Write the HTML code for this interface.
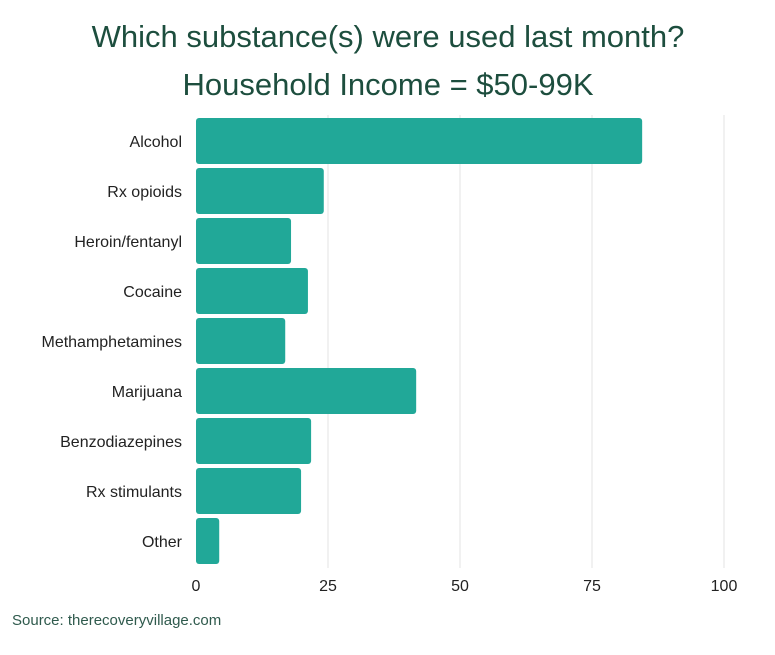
<!DOCTYPE html>
<html><head><meta charset="utf-8"><style>
body{margin:0;background:#fff;width:775px;height:650px;overflow:hidden;font-family:"Liberation Sans",sans-serif}
</style></head><body>
<svg width="775" height="650">
<text x="388" y="47" text-anchor="middle" font-size="31" fill="#1d4e3e">Which substance(s) were used last month?</text>
<text x="388" y="95" text-anchor="middle" font-size="31" fill="#1d4e3e">Household Income = $50-99K</text>
<g id="grid"></g><g id="bars"></g><g id="labels"></g><g id="ticks"></g>
<text x="12" y="625" font-size="15" fill="#2f5a4d">Source: therecoveryvillage.com</text>
</svg>
<script>
const categories=["Alcohol","Rx opioids","Heroin/fentanyl","Cocaine","Methamphetamines","Marijuana","Benzodiazepines","Rx stimulants","Other"];
const values=[84.5,24.2,18,21.2,16.9,41.7,21.8,19.9,4.4];
const ticks=[0,25,50,75,100];
const NS="http://www.w3.org/2000/svg";
const x=v=>196+v*5.28;
const y=i=>118+i*50;
function mk(t,a,p){const e=document.createElementNS(NS,t);for(const k in a)e.setAttribute(k,a[k]);p.appendChild(e);return e;}
const g=document.getElementById('grid'),b=document.getElementById('bars'),l=document.getElementById('labels'),tk=document.getElementById('ticks');
ticks.forEach(t=>{
 if(t>0){const ln=mk('line',{x1:x(t),x2:x(t),y1:115,y2:568,stroke:'#e3e3e3','stroke-width':1},g);
 
 }
 const tx=mk('text',{x:x(t),y:591,'text-anchor':'middle','font-size':16,fill:'#222'},tk);
 tx.textContent=t;
 
 
});
categories.forEach((c,i)=>{
 const r=mk('rect',{x:x(0),y:y(i),width:x(values[i])-x(0),height:46,rx:3,fill:'#21a898'},b);
 
 
 const t=mk('text',{x:182,y:y(i)+29,'text-anchor':'end','font-size':16,fill:'#222'},l);
 t.textContent=c;
 
 
});
</script>
</body></html>
